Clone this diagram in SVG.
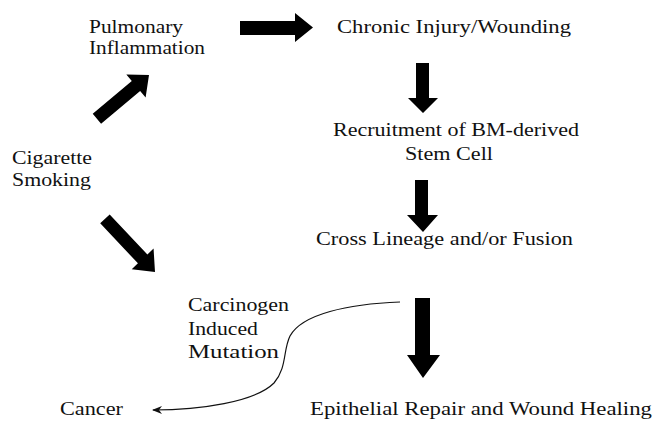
<svg xmlns="http://www.w3.org/2000/svg" width="653" height="423" viewBox="0 0 653 423">
<style>
.t{font-family:'Liberation Serif','Times New Roman',serif;font-size:18px;fill:#111}
.arr{fill:#000}
.curve{fill:none;stroke:#111;stroke-width:1.2}
</style>
<defs>
<marker id="head" markerWidth="10" markerHeight="8" refX="9" refY="4" orient="auto" markerUnits="userSpaceOnUse">
<path d="M0,0 L10,4 L0,8 L3,4 Z" fill="#111"/>
</marker>
</defs>
<rect width="653" height="423" fill="#fff"/>
<g class="t">
<g id="pulmonary"><text x="89" y="33" textLength="94" lengthAdjust="spacingAndGlyphs">Pulmonary</text><text x="89" y="54" textLength="116" lengthAdjust="spacingAndGlyphs">Inflammation</text></g>
<g id="chronic"><text x="337" y="33" textLength="234" lengthAdjust="spacingAndGlyphs">Chronic Injury/Wounding</text></g>
<g id="recruitment"><text x="333" y="136" textLength="246" lengthAdjust="spacingAndGlyphs">Recruitment of BM-derived</text><text x="405" y="160" textLength="88" lengthAdjust="spacingAndGlyphs">Stem Cell</text></g>
<g id="cross"><text x="316" y="245" textLength="257" lengthAdjust="spacingAndGlyphs">Cross Lineage and/or Fusion</text></g>
<g id="epithelial"><text x="310" y="415" textLength="342" lengthAdjust="spacingAndGlyphs">Epithelial Repair and Wound Healing</text></g>
<g id="smoking"><text x="12" y="164" textLength="80" lengthAdjust="spacingAndGlyphs">Cigarette</text><text x="12" y="186" textLength="79" lengthAdjust="spacingAndGlyphs">Smoking</text></g>
<g id="mutation"><text x="188" y="311" textLength="101" lengthAdjust="spacingAndGlyphs">Carcinogen</text><text x="188" y="335" textLength="70" lengthAdjust="spacingAndGlyphs">Induced</text><text x="188" y="358" textLength="91" lengthAdjust="spacingAndGlyphs">Mutation</text></g>
<g id="cancer"><text x="60" y="415" textLength="63" lengthAdjust="spacingAndGlyphs">Cancer</text></g>
</g>
<g id="connectors">
<polygon class="arr" transform="translate(149,75) rotate(-40)" points="-68,-6.5 -17,-6.5 -17,-15 0,0 -17,15 -17,6.5 -68,6.5"/>
<polygon class="arr" points="240,21 295,21 295,13 313,27.5 295,42 295,35 240,35"/>
<polygon class="arr" points="416,63 429,63 429,98 438,98 423,113 408,98 416,98"/>
<polygon class="arr" points="415,180 428,180 428,215 438,215 423,232 407,215 415,215"/>
<polygon class="arr" points="415,298 430,298 430,355 440,355 423,378 407,355 415,355"/>
<polygon class="arr" transform="translate(155,272) rotate(46.7)" points="-73,-6.5 -18,-6.5 -18,-15 0,0 -18,15 -18,6.5 -73,6.5"/>
<path class="curve" d="M400,302 C348,304 302,314 290,336 C283,350 287,368 274,383 C255,402 200,410 153,410" marker-end="url(#head)"/>
</g>
</svg>
